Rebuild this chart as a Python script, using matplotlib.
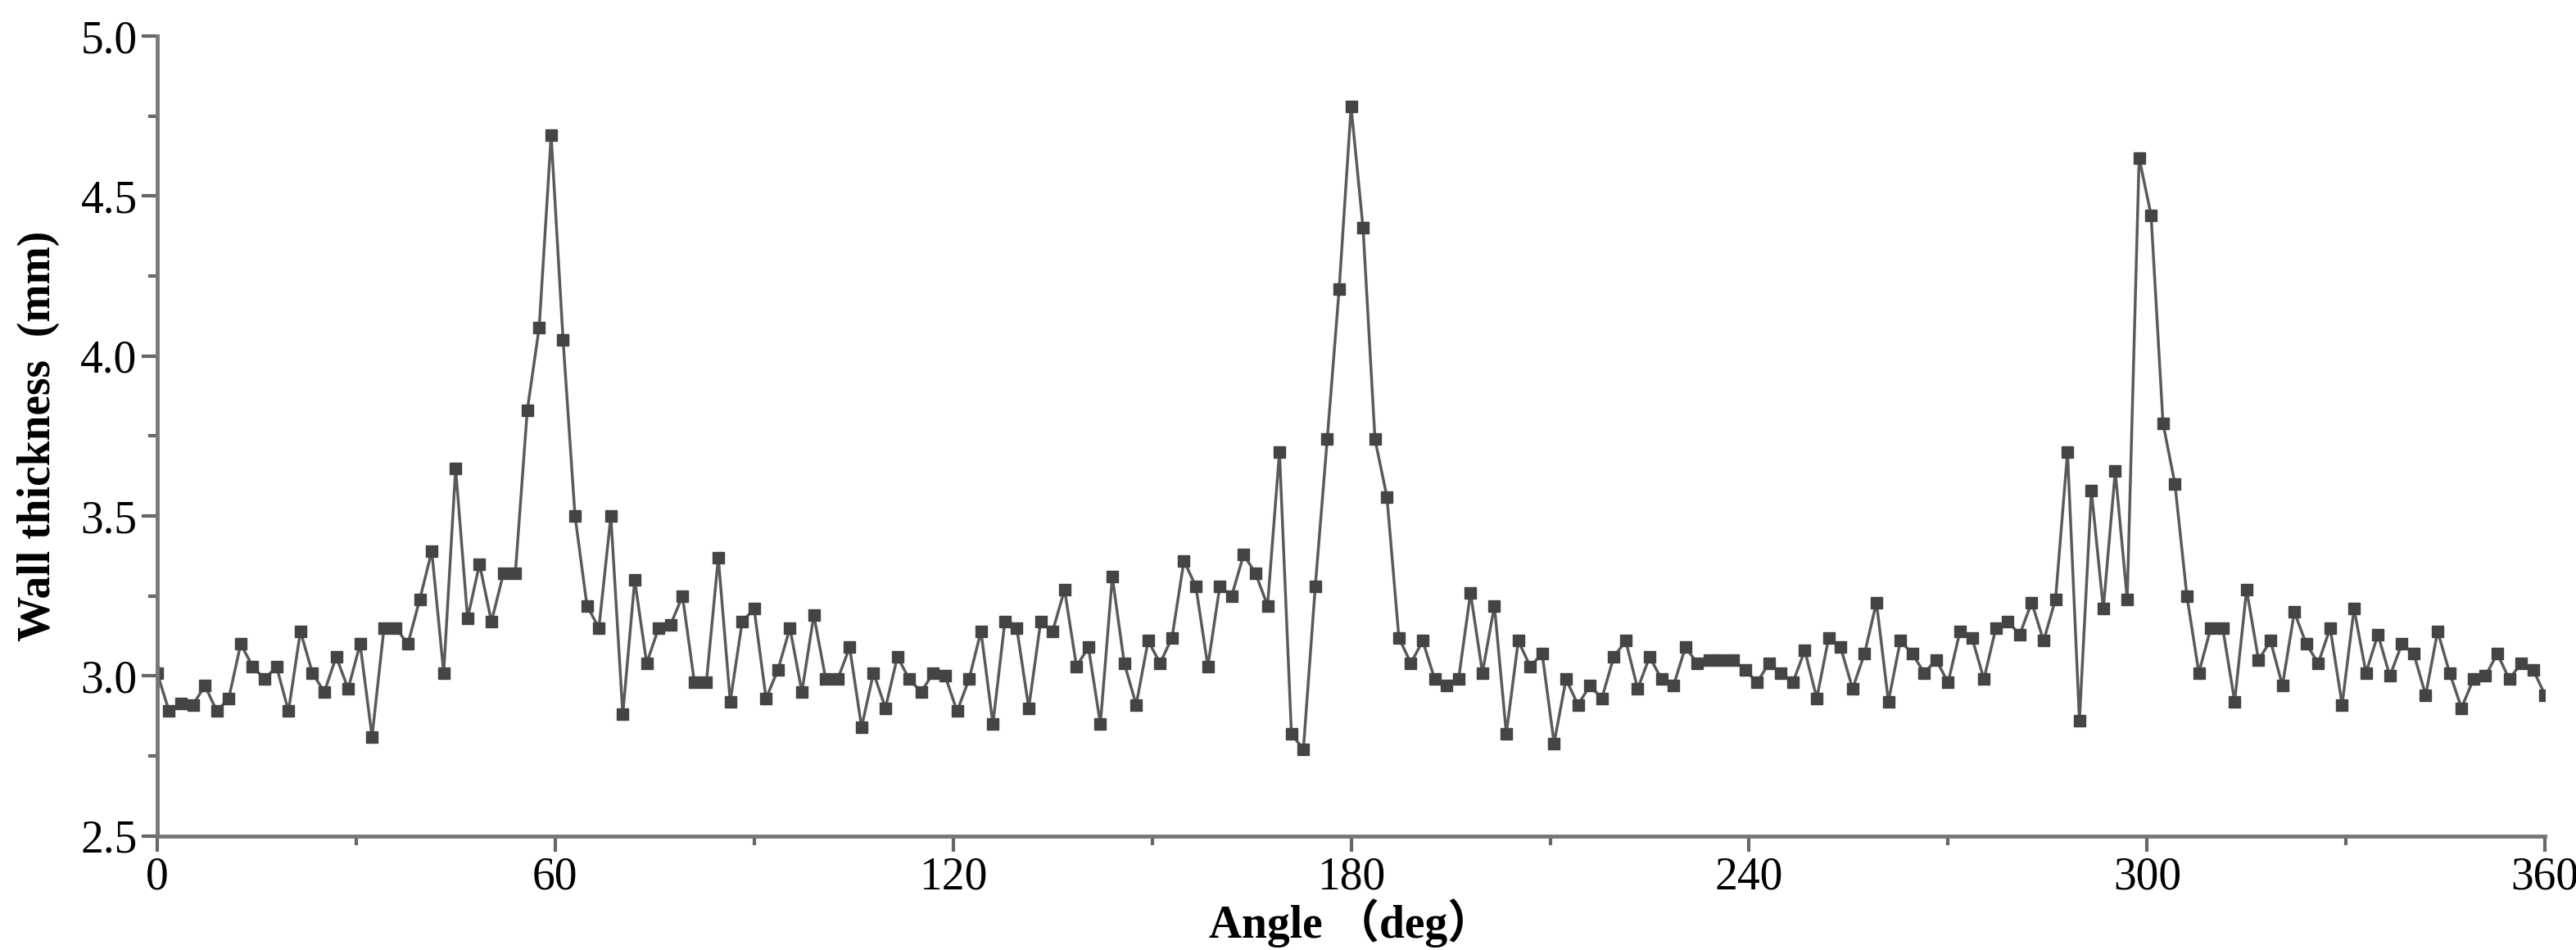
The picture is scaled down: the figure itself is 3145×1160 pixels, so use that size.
import numpy as np
import matplotlib.pyplot as plt
from matplotlib.ticker import MultipleLocator

plt.rcParams['font.family'] = ['Liberation Serif', 'Noto Sans CJK SC', 'DejaVu Sans']

step_deg = 1.8
thickness = [
    3.01, 2.89, 2.915, 2.91, 2.97, 2.89, 2.93, 3.10, 3.03, 2.99,
    3.03, 2.89, 3.14, 3.01, 2.95, 3.06, 2.96, 3.10, 2.81, 3.15,
    3.15, 3.10, 3.24, 3.39, 3.01, 3.65, 3.18, 3.35, 3.17, 3.32,
    3.32, 3.83, 4.09, 4.69, 4.05, 3.50, 3.22, 3.15, 3.50, 2.88,
    3.30, 3.04, 3.15, 3.16, 3.25, 2.98, 2.98, 3.37, 2.92, 3.17,
    3.21, 2.93, 3.02, 3.15, 2.95, 3.19, 2.99, 2.99, 3.09, 2.84,
    3.01, 2.90, 3.06, 2.99, 2.95, 3.01, 3.00, 2.89,
    2.99, 3.14, 2.85, 3.17, 3.15, 2.90, 3.17, 3.14, 3.27, 3.03,
    3.09, 2.85, 3.31, 3.04, 2.91, 3.11, 3.04, 3.12, 3.36, 3.28,
    3.03, 3.28, 3.25, 3.38, 3.32, 3.22, 3.70, 2.82, 2.77, 3.28,
    3.74, 4.21, 4.78, 4.40, 3.74, 3.56, 3.12, 3.04, 3.11, 2.99,
    2.97, 2.99, 3.26, 3.01, 3.22, 2.82, 3.11, 3.03, 3.07, 2.79,
    2.99, 2.91, 2.97, 2.93, 3.06, 3.11, 2.96, 3.06, 2.99, 2.97,
    3.09, 3.04, 3.05, 3.05, 3.05, 3.02,
    2.98, 3.04, 3.01, 2.98, 3.08, 2.93, 3.12, 3.09, 2.96, 3.07,
    3.23, 2.92, 3.11, 3.07, 3.01, 3.05, 2.98, 3.14, 3.12, 2.99,
    3.15, 3.17, 3.13, 3.23, 3.11, 3.24, 3.70, 2.86, 3.58, 3.21,
    3.64, 3.24, 4.62, 4.44, 3.79, 3.60, 3.25, 3.01, 3.15, 3.15,
    2.92, 3.27, 3.05, 3.11, 2.97, 3.20, 3.10, 3.04, 3.15, 2.91,
    3.21, 3.01, 3.13, 3.00, 3.10, 3.07, 2.94, 3.14, 3.01, 2.90,
    2.99, 3.00, 3.07, 2.99, 3.04, 3.02, 2.94,
]
angle = np.arange(len(thickness)) * step_deg

fig = plt.figure(figsize=(31.45, 11.6), dpi=100)
ax = fig.add_axes([0.061, 0.12, 0.927, 0.842])
ax.plot(angle, thickness, '-', color='#5a5a5a', lw=2.5,
        marker='s', markersize=10, markerfacecolor='#444444', markeredgecolor='#444444')

ax.set_xlim(0, 360)
ax.set_ylim(2.5, 5.0)
ax.xaxis.set_major_locator(MultipleLocator(60))
ax.xaxis.set_minor_locator(MultipleLocator(30))
ax.yaxis.set_major_locator(MultipleLocator(0.5))
ax.yaxis.set_minor_locator(MultipleLocator(0.25))
ax.tick_params(which='major', direction='out', length=14, width=3, labelsize=40, color='#666666')
ax.tick_params(which='minor', direction='out', length=8, width=3, color='#666666')
for s in ['top', 'right']:
    ax.spines[s].set_visible(False)
for s in ['left', 'bottom']:
    ax.spines[s].set_linewidth(3.5)
    ax.spines[s].set_color('#777777')

ax.set_xlabel('Angle （deg）', fontsize=40, fontweight='bold', labelpad=0)
ax.set_ylabel('Wall thickness  (mm)', fontsize=40, fontweight='bold', labelpad=18)

fig.savefig('out.png', dpi=100)
